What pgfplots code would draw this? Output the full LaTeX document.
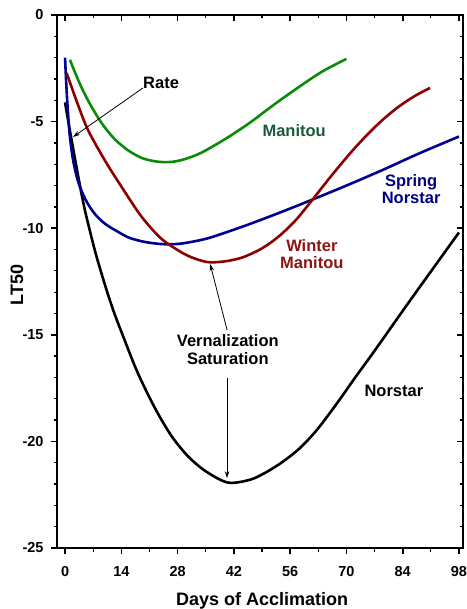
\documentclass[border=0pt]{standalone}
\usepackage{fontspec}
\setmainfont{Liberation Sans}
\usepackage{pgfplots}
\pgfplotsset{compat=1.18}
\usetikzlibrary{arrows.meta}
\definecolor{cgreen}{RGB}{10,140,10}
\definecolor{cred}{RGB}{140,0,0}
\definecolor{cblue}{RGB}{0,0,145}
\definecolor{tgreen}{RGB}{25,90,60}
\definecolor{tred}{RGB}{140,20,20}
\definecolor{tblue}{RGB}{0,0,130}
\begin{document}
\begin{tikzpicture}
\useasboundingbox (-57pt,-61pt) rectangle (409pt,548pt);
\pgfplotsset{common/.style={scale only axis, width=406pt, height=533pt,
  xmin=-2, xmax=99, ymin=-25, ymax=0,
  xtick={0,14,...,98}, ytick={-25,-20,...,0},
  minor x tick num=1, minor y tick num=4,
  axis line style={line width=2.6pt},
  major tick style={line width=1.6pt, black},
  minor tick style={line width=1.3pt, black},
  major tick length=6pt, minor tick length=3.5pt}}
\begin{axis}[common, xtick pos=left, ytick pos=left, tick align=outside,
  ticklabel style={font=\fontsize{14.5}{16}\selectfont\bfseries},
  xticklabel style={yshift=-9pt},
  yticklabel style={xshift=-4pt},
  /pgf/number format/assume math mode=true,
  xlabel={Days of Acclimation}, ylabel={LT50},
  xlabel style={font=\fontsize{18}{20}\selectfont\bfseries, at={(axis description cs:0.505,0)}, anchor=base, yshift=-57pt},
  ylabel style={font=\fontsize{18}{20}\selectfont\bfseries, at={(axis description cs:-0.0837,0.493)}, anchor=base},
  every axis plot/.style={line width=2.6pt, smooth},
  clip=false]
% Norstar
\addplot[black] coordinates {(0,-4.1) (1,-5.2) (2,-6.25) (3.5,-7.8) (5,-9.2) (7.5,-11.1) (10,-12.7) (12,-13.85) (14.1,-14.9) (18,-16.75) (22.4,-18.45) (26.5,-19.75) (30.6,-20.7) (35,-21.4) (40.5,-21.93) (46,-21.8) (50,-21.45) (54.2,-20.95) (58.5,-20.3) (62.7,-19.45) (67.7,-18.2) (72,-17.05) (77,-15.75) (85.8,-13.4) (98,-10.2)};
% Spring Norstar
\addplot[cblue] coordinates {(0,-2.0) (0.3,-3.2) (0.7,-4.5) (1.2,-5.7) (2,-6.8) (3,-7.65) (4,-8.2) (5.5,-8.8) (7.5,-9.35) (10,-9.8) (13,-10.15) (16,-10.45) (20,-10.65) (24.5,-10.75) (29,-10.72) (35,-10.5) (40,-10.2) (46,-9.8) (53,-9.3) (61,-8.7) (70,-8.0) (79,-7.27) (88,-6.5) (98,-5.7)};
% Winter Manitou
\addplot[cred] coordinates {(0.4,-2.72) (3,-4.1) (5.7,-5.39) (10,-6.85) (14.2,-8.1) (19,-9.45) (24,-10.5) (29.4,-11.18) (33,-11.47) (36,-11.6) (40,-11.55) (44,-11.38) (48,-11.05) (51,-10.7) (54,-10.25) (57.5,-9.6) (61.4,-8.7) (66,-7.6) (71,-6.47) (75,-5.65) (79,-4.92) (83,-4.3) (87,-3.8) (90.8,-3.42)};
% Manitou
\addplot[cgreen] coordinates {(1.2,-2.1) (3.5,-3.15) (5.7,-4.0) (8,-4.75) (10,-5.3) (12.5,-5.85) (15.7,-6.35) (19,-6.7) (22,-6.85) (24.5,-6.9) (27,-6.88) (30,-6.75) (34,-6.45) (40,-5.8) (46,-5.05) (52,-4.2) (58,-3.4) (64,-2.65) (70,-2.06)};
% annotations
\tikzset{lab/.style={font=\fontsize{16.5}{17.5}\selectfont\bfseries, align=center, inner sep=0pt}}
\node[lab] at (axis cs:23.9,-3.19) {Rate};
\draw[line width=0.8pt, -{Stealth[length=7pt,width=4.5pt]}] (axis cs:19.4,-3.42) -- (axis cs:2.0,-5.72);
\node[lab, text=tgreen] at (axis cs:57,-5.44) {Manitou};
\node[lab, text=tblue] at (axis cs:86.1,-8.16) {Spring\\Norstar};
\node[lab, text=tred] at (axis cs:61.4,-11.21) {Winter\\Manitou};
\node[lab] at (axis cs:40.5,-15.7) {Vernalization\\Saturation};
\draw[line width=0.8pt, -{Stealth[length=7pt,width=4.5pt]}] (axis cs:40.3,-14.77) -- (axis cs:36.1,-11.68);
\draw[line width=0.8pt, -{Stealth[length=7pt,width=4.5pt]}] (axis cs:40.3,-17.03) -- (axis cs:40.3,-21.72);
\node[lab] at (axis cs:81.8,-17.64) {Norstar};
\end{axis}
\begin{axis}[common, xtick pos=right, ytick pos=right, tick align=inside,
  xticklabels={}, yticklabels={}]
\end{axis}
\end{tikzpicture}
\end{document}
